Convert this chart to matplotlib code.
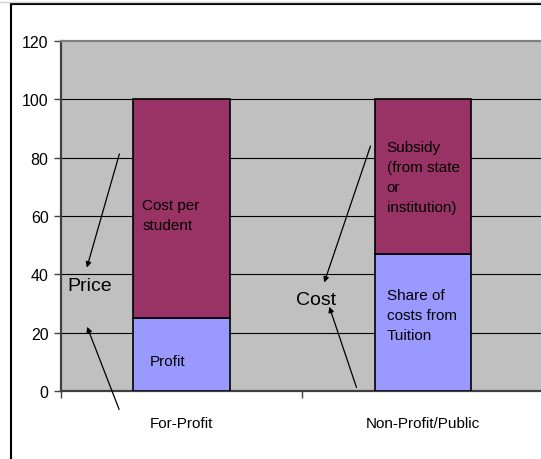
import matplotlib.pyplot as plt
from matplotlib.lines import Line2D

categories = ['For-Profit', 'Non-Profit/Public']
lower_values = [25, 47]    # Profit / Share of costs from Tuition
upper_values = [75, 53]    # Cost per student / Subsidy
lower_labels = ['Profit', 'Share of\ncosts from\nTuition']
upper_labels = ['Cost per\nstudent', 'Subsidy\n(from state\nor\ninstitution)']
y_ticks = [0, 20, 40, 60, 80, 100, 120]

plt.rcParams['font.family'] = ['Liberation Sans', 'DejaVu Sans']

fig = plt.figure(figsize=(5.41, 4.60), dpi=100)
ax = fig.add_axes([61 / 541, 1 - 392 / 460, 1 - 61 / 541 + 0.005, 350 / 460])
ax.set_facecolor('#C0C0C0')

x = range(len(categories))
ax.bar(x, lower_values, width=0.4, color='#9999FF', edgecolor='black', linewidth=1.2, zorder=3)
ax.bar(x, upper_values, width=0.4, bottom=lower_values, color='#993366',
       edgecolor='black', linewidth=1.2, zorder=3)

ax.set_xlim(-0.5, 1.5)
ax.set_ylim(0, 120)
ax.set_yticks(y_ticks)
ax.set_yticklabels([str(v) for v in y_ticks], fontsize=11.5)
for v in y_ticks[1:-1]:
    ax.axhline(v, color='black', lw=0.8, zorder=1)

ax.set_xticks(list(x))
ax.set_xticklabels(categories, fontsize=11)
ax.set_xticks([-0.5, 0.5, 1.5], minor=True)
ax.tick_params(axis='x', which='major', length=0, pad=18)
ax.tick_params(axis='x', which='minor', length=5, width=1, color='#404040', direction='out')
ax.tick_params(axis='y', length=5, width=1, color='#404040', pad=4)

for s in ['left', 'bottom']:
    ax.spines[s].set_color('#404040')
    ax.spines[s].set_linewidth(1.6)
ax.spines['top'].set_color('#808080')
ax.spines['top'].set_linewidth(1.6)
ax.spines['right'].set_visible(False)

# labels inside bars
ax.text(-0.164, 60.3, upper_labels[0], fontsize=11, ha='left', va='center', linespacing=1.5, zorder=4)
ax.text(-0.131, 10.3, lower_labels[0], fontsize=11, ha='left', va='center', zorder=4)
ax.text(0.849, 73.3, upper_labels[1], fontsize=11, ha='left', va='center', linespacing=1.55, zorder=4)
ax.text(0.849, 26, lower_labels[1], fontsize=11, ha='left', va='center', linespacing=1.55, zorder=4)

# Price / Cost annotations
ax.text(-0.475, 36, 'Price', fontsize=14, ha='left', va='center', zorder=4)
ax.text(0.475, 31.5, 'Cost', fontsize=14, ha='left', va='center', zorder=4)
arrow = dict(arrowstyle='-|>', color='black', lw=0.9, mutation_scale=8)
for start, end in [((-0.255, 82.2), (-0.396, 41.4)),
                   ((-0.255, -7.2), (-0.396, 22.9)),
                   ((0.786, 84.9), (0.587, 36.3)),
                   ((0.728, 0.3), (0.608, 29.8))]:
    ax.annotate('', xy=end, xytext=start, arrowprops=arrow, annotation_clip=False, zorder=5)

# outer chart border (cropped)
fig.add_artist(Line2D([11 / 541, 11 / 541], [0, 1 - 5 / 460], transform=fig.transFigure,
                      color='black', lw=1.5))
fig.add_artist(Line2D([11 / 541, 1], [1 - 5 / 460, 1 - 5 / 460], transform=fig.transFigure,
                      color='black', lw=1.5))
fig.add_artist(Line2D([0, 1], [1 - 3 / 460, 1 - 3 / 460], transform=fig.transFigure,
                      color='#D0D0D0', lw=1))

fig.savefig('out.png', dpi=100)
